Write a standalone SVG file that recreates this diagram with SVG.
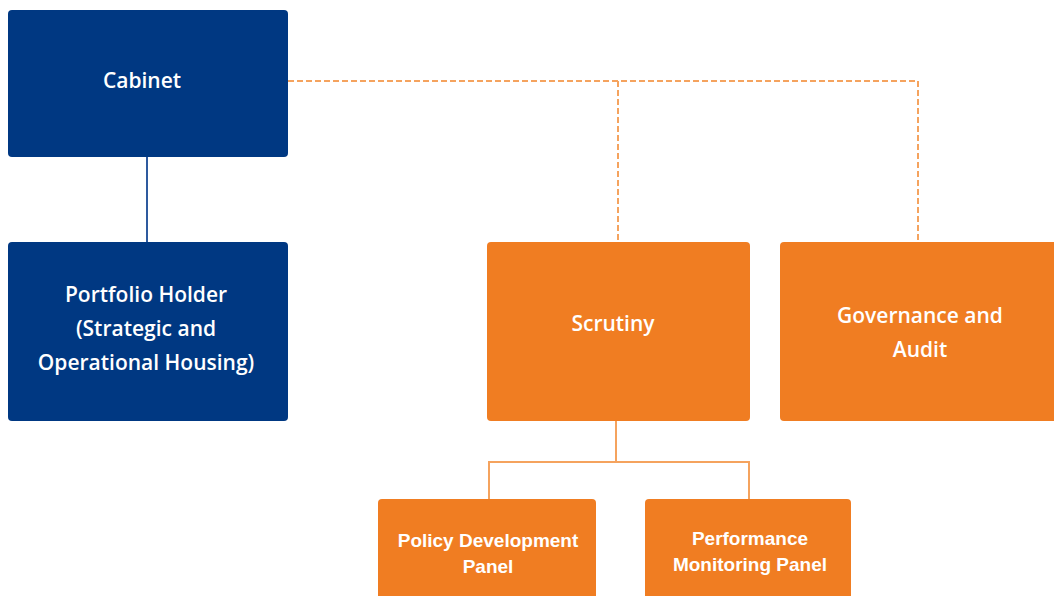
<svg xmlns="http://www.w3.org/2000/svg" width="1054" height="596" viewBox="0 0 1054 596">
<style>
.blue{fill:#003882}
.orange{fill:#F07D22}
.t{fill:#FFFFFF;font-family:"Open Sans","Noto Sans",sans-serif;font-size:21px;font-weight:600;text-anchor:middle}
.s{fill:#FFFFFF;font-family:"Liberation Sans",Arial,sans-serif;font-size:19px;font-weight:bold;text-anchor:middle}
.cb{stroke:#2E5A9E;stroke-width:2;fill:none}
.co{stroke:#F5A35E;stroke-width:2;fill:none}
.cd{stroke:#F5A35E;stroke-width:2;fill:none;stroke-dasharray:6,3}
</style>
<g id="connectors">
<line class="cb" x1="147" y1="157" x2="147" y2="242"/>
<polyline class="cd" points="288,81 918,81 918,242"/>
<line class="cd" x1="618" y1="81" x2="618" y2="242"/>
<polyline class="co" points="616,421 616,462"/>
<polyline class="co" points="489,499 489,462 749,462 749,499"/>
</g>
<g id="cabinet"><rect class="blue" x="8" y="10" width="280" height="147" rx="4"/><text class="t" x="142" y="88">Cabinet</text></g>
<g id="portfolio"><rect class="blue" x="8" y="242" width="280" height="179" rx="4"/>
<text class="t" x="146" y="302">Portfolio Holder</text><text class="t" x="146" y="336">(Strategic and</text><text class="t" x="146" y="370">Operational Housing)</text></g>
<g id="scrutiny"><rect class="orange" x="487" y="242" width="263" height="179" rx="4"/><text class="t" x="613" y="331">Scrutiny</text></g>
<g id="governance"><rect class="orange" x="780" y="242" width="290" height="179" rx="4"/>
<text class="t" x="920" y="323">Governance and</text><text class="t" x="920" y="357">Audit</text></g>
<g id="policy"><rect class="orange" x="378" y="499" width="218" height="110" rx="4"/>
<text class="s" x="488" y="547">Policy Development</text><text class="s" x="488" y="573">Panel</text></g>
<g id="performance"><rect class="orange" x="645" y="499" width="206" height="110" rx="4"/>
<text class="s" x="750" y="545">Performance</text><text class="s" x="750" y="571">Monitoring Panel</text></g>
</svg>
